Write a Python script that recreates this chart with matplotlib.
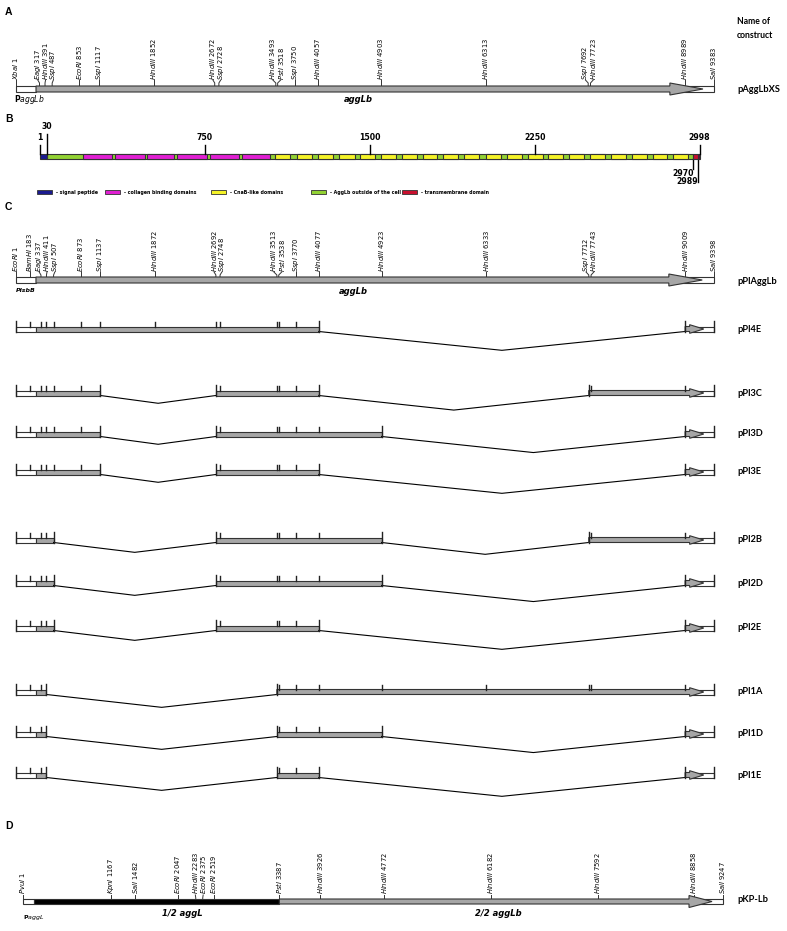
import matplotlib.pyplot as plt
from matplotlib.patches import Rectangle, Polygon

# ---- A: pAggLbXS (bp) ----
a_enz = ['XbaI', 'EagI', 'HindIII', 'SspI', 'EcoRI', 'SspI', 'HindIII', 'HindIII', 'SspI',
         'HindIII', 'PstI', 'SspI', 'HindIII', 'HindIII', 'HindIII', 'SspI', 'HindIII',
         'HindIII', 'SalI']
a_pos = [1, 317, 391, 487, 853, 1117, 1852, 2672, 2728, 3493, 3518, 3750, 4057, 4903,
         6313, 7692, 7723, 8989, 9383]
a_gene = [270, 8790, 9235]          # aggLb start, arrow head, tip

# ---- B: AggLb protein (aa) ----
signal_pep = (1, 30)
outside = (30, 2970)
collagen = [(196, 328), (342, 478), (487, 610), (624, 760), (774, 905), (919, 1046)]
cnab = [(1068, 1136), (1168, 1236), (1264, 1332), (1359, 1432), (1454, 1523),
        (1550, 1618), (1645, 1714), (1741, 1805), (1832, 1900), (1928, 1996),
        (2028, 2096), (2124, 2192), (2219, 2287), (2310, 2378), (2406, 2474),
        (2501, 2569), (2597, 2665), (2692, 2760), (2788, 2851), (2878, 2947)]
tm_dom = (2970, 2989)
tail = (2989, 2998)
b_top_ticks = [1, 30, 750, 1500, 2250, 2998]
b_bottom_ticks = [2970, 2989]
legend_labels = ['- signal peptide', '- collagen binding domains', '- CnaB-like domains',
                 '- AggLb outside of the cell', '- transmembrane domain']

# ---- C: pPlAggLb and deletion constructs (bp) ----
c_enz = ['EcoRI', 'BamHI', 'EagI', 'HindIII', 'SspI', 'EcoRI', 'SspI', 'HindIII', 'HindIII',
         'SspI', 'HindIII', 'PstI', 'SspI', 'HindIII', 'HindIII', 'HindIII', 'SspI',
         'HindIII', 'HindIII', 'SalI']
c_pos = [1, 183, 337, 411, 507, 873, 1137, 1872, 2692, 2748, 3513, 3538, 3770, 4077, 4923,
         6333, 7712, 7743, 9009, 9398]
c_gene = [270, 8790, 9240]
con_names = ['pPl4E', 'pPl3C', 'pPl3D', 'pPl3E', 'pPl2B', 'pPl2D', 'pPl2E',
             'pPl1A', 'pPl1D', 'pPl1E']
con_segs = [
    [(1, 4077), (9009, 9398)],
    [(1, 1137), (2692, 4077), (7712, 9398)],
    [(1, 1137), (2692, 4923), (9009, 9398)],
    [(1, 1137), (2692, 4077), (9009, 9398)],
    [(1, 507), (2692, 4923), (7712, 9398)],
    [(1, 507), (2692, 4923), (9009, 9398)],
    [(1, 507), (2692, 4077), (9009, 9398)],
    [(1, 411), (3513, 9398)],
    [(1, 411), (3513, 4923), (9009, 9398)],
    [(1, 411), (3513, 4077), (9009, 9398)],
]
con_head = [9070, 9260]

# ---- D: pKP-Lb (bp) ----
d_enz = ['PvuI', 'KpnI', 'SalI', 'EcoRI', 'HindIII', 'EcoRI', 'EcoRI', 'PstI', 'HindIII',
         'HindIII', 'HindIII', 'HindIII', 'HindIII', 'SalI']
d_pos = [1, 1167, 1482, 2047, 2283, 2375, 2519, 3387, 3926, 4772, 6182, 7592, 8858, 9247]
d_parts = [146, 3387, 8798, 9102]   # 1/2 aggL start, 2/2 aggLb start, head, tip

GRAY = '#a6a6a6'
EDGE = '#333333'
NAME_FONT = 'Lato'

W, H = 787, 931
fig = plt.figure(figsize=(W / 100, H / 100), dpi=100)

lay = fig.add_axes([0, 0, 1, 1])
lay.set_xlim(0, W)
lay.set_ylim(H, 0)
lay.axis('off')


def track(u0, px0, u1, px1):
    k = (px1 - px0) / (u1 - u0)
    ax = fig.add_axes([0, 0, 1, 1])
    ax.set_xlim(u0 - px0 / k, u0 + (W - px0) / k)
    ax.set_ylim(H, 0)
    ax.axis('off')
    return ax, k


def spread(xs, gap):
    lx = list(xs)
    for _ in range(300):
        for i in range(len(lx) - 1):
            d = lx[i + 1] - lx[i]
            if d < gap:
                s = (gap - d) / 2
                lx[i] -= s
                lx[i + 1] += s
    return lx


def sites(ax, k, enz, pos, top, lab_y):
    lx = spread(pos, 7.8 / k)
    for e, p, x in zip(enz, pos, lx):
        ax.plot([p, p, x], [top, lab_y + 3, lab_y], color=EDGE, lw=0.7)
        ax.text(x, lab_y - 0.5, rf'$\it{{{e}}}$ {p}', rotation=90, ha='center',
                va='bottom', fontsize=4.9, color='black')


def arrow(ax, y, h, start, head, tip, hw, color=GRAY):
    top, bot = y - h / 2, y + h / 2
    ax.add_patch(Polygon([(start, top), (head, top), (head, top - hw), (tip, y),
                          (head, bot + hw), (head, bot), (start, bot)],
                         closed=True, fc=color, ec=EDGE, lw=0.8, zorder=3))


def box(ax, x0, x1, y, h, fc, lw=0.8, z=2):
    ax.add_patch(Rectangle((x0, y - h / 2), x1 - x0, h, fc=fc, ec=EDGE, lw=lw, zorder=z))


# ---------------- A ----------------
axA, kA = track(1, 16, 9383, 714)
yA = 89
box(axA, 1, a_gene[0], yA, 6, 'white')
box(axA, a_gene[1], a_pos[-1], yA, 6, 'white')
arrow(axA, yA, 6, a_gene[0], a_gene[1], a_gene[2], 3)
sites(axA, kA, a_enz, a_pos, yA - 3, 80)

lay.text(5, 12, 'A', fontsize=7.5, fontweight='bold', family='Liberation Sans', va='center')
lay.text(737, 21, 'Name of', fontsize=6.2, fontweight='bold', family=NAME_FONT, va='center')
lay.text(737, 36, 'construct', fontsize=6.2, fontweight='bold', family=NAME_FONT, va='center')
lay.text(737, 89, 'pAggLbXS', fontsize=6.7, fontweight='bold', family=NAME_FONT, va='center')
lay.text(14, 100, r'P$\it{aggLb}$', fontsize=5.5, fontweight='bold', va='center')
lay.text(358, 100, 'aggLb', fontsize=6, fontweight='bold', style='italic', ha='center',
         va='center')

# ---------------- B ----------------
axB, kB = track(1, 40.2, 2998, 699.6)
yB, hB = 156.5, 5.5
box(axB, outside[0], outside[1], yB, hB, '#92d233', lw=0.8)
box(axB, signal_pep[0], signal_pep[1], yB, hB, '#1b1b8f', lw=0.8, z=3)
for s, e in collagen:
    box(axB, s, e, yB, hB, '#e01fd2', lw=0.8, z=3)
for s, e in cnab:
    box(axB, s, e, yB, hB, '#f4f227', lw=0.8, z=3)
box(axB, tm_dom[0], tm_dom[1], yB, hB, '#c8102e', lw=0.8, z=3)
box(axB, tail[0], tail[1], yB, hB, '#5a1038', lw=0.8, z=3)

tick_top = {1: 142, 30: 131, 750: 142, 1500: 142, 2250: 142, 2998: 142}
for t in b_top_ticks:
    ly = tick_top[t]
    axB.plot([t, t], [ly + 3, yB - hB / 2], color='black', lw=1.0, zorder=4)
    axB.text(t, ly, str(t), fontsize=5.6, fontweight='bold', ha='center', va='bottom')
bot_lab = {2970: 173, 2989: 182}
for t in b_bottom_ticks:
    ly = bot_lab[t]
    axB.plot([t, t], [yB + hB / 2, ly - 4 if t == 2970 else ly], color='black', lw=1.0)
    axB.text(t + 4, ly, str(t), fontsize=5.6, fontweight='bold', ha='right', va='center')

lay.text(5, 119, 'B', fontsize=7.5, fontweight='bold', family='Liberation Sans', va='center')
leg_colors = ['#1b1b8f', '#e01fd2', '#f4f227', '#92d233', '#c8102e']
leg_x = [37, 105, 211, 311, 402]
for c, lbl, x in zip(leg_colors, legend_labels, leg_x):
    lay.add_patch(Rectangle((x, 190), 15, 4, fc=c, ec=EDGE, lw=0.6))
    lay.text(x + 19, 192.2, lbl, fontsize=3.4, fontweight='bold', va='center')

# ---------------- C ----------------
axC, kC = track(1, 16, 9398, 714)
yC = 280
box(axC, 1, c_gene[0], yC, 6, 'white')
box(axC, c_gene[1], c_pos[-1], yC, 6, 'white')
arrow(axC, yC, 6, c_gene[0], c_gene[1], c_gene[2], 3)
sites(axC, kC, c_enz, c_pos, yC - 3, 272)

lay.text(5, 207, 'C', fontsize=7.5, fontweight='bold', family='Liberation Sans', va='center')
lay.text(737, 282, 'pPlAggLb', fontsize=6.7, fontweight='bold', family=NAME_FONT, va='center')
lay.text(16, 291, 'PlsbB', fontsize=4.5, fontweight='bold', style='italic', va='center')
lay.text(353, 292, 'aggLb', fontsize=6, fontweight='bold', style='italic', ha='center',
         va='center')

con_y = [329, 393, 434, 472, 540, 583, 628, 692, 734, 775]
hc = 5
for name, segs, y in zip(con_names, con_segs, con_y):
    top, bot = y - hc / 2, y + hc / 2
    prev = None
    for s, e in segs:
        if s == 1:
            box(axC, 1, c_gene[0], y, hc, 'white')
            box(axC, c_gene[0], e, y, hc, GRAY)
        elif e == c_pos[-1]:
            box(axC, con_head[0], e, y, hc, 'white')
            arrow(axC, y, hc, s, con_head[0], con_head[1], 1.8)
        else:
            box(axC, s, e, y, hc, GRAY)
        for p in (s, e):
            axC.plot([p, p], [bot, top - 6], color='#222222', lw=1.0, zorder=4)
        for p in c_pos:
            if s < p < e:
                axC.plot([p, p], [top, top - 5], color='#222222', lw=1.0, zorder=4)
        if prev is not None:
            depth = 2.7 + 0.044 * (s - prev) * kC
            axC.plot([prev, (prev + s) / 2, s], [bot, bot + depth, bot],
                     color='black', lw=0.8)
        prev = e
    lay.text(737, y, name, fontsize=6.7, fontweight='bold', family=NAME_FONT, va='center')

# ---------------- D ----------------
axD, kD = track(1, 23, 9247, 723)
yD = 901.5
box(axD, 1, d_parts[0], yD, 5, 'white')
box(axD, d_parts[2], d_pos[-1], yD, 5, 'white')
box(axD, d_parts[0], d_parts[1], yD, 5, 'black', z=3)
arrow(axD, yD, 5, d_parts[1], d_parts[2], d_parts[3], 3.5)
sites(axD, kD, d_enz, d_pos, yD - 2.5, 895)

lay.text(5, 826, 'D', fontsize=7.5, fontweight='bold', family='Liberation Sans', va='center')
lay.text(737, 899, 'pKP-Lb', fontsize=6.7, fontweight='bold', family=NAME_FONT, va='center')
lay.text(23, 917, r'P$\it{aggL}$', fontsize=4.5, fontweight='bold', va='center')
lay.text(182, 914, '1/2 aggL', fontsize=6, fontweight='bold', style='italic', ha='center',
         va='center')
lay.text(498, 913, '2/2 aggLb', fontsize=6, fontweight='bold', style='italic', ha='center',
         va='center')

fig.savefig('out.png', dpi=100)
